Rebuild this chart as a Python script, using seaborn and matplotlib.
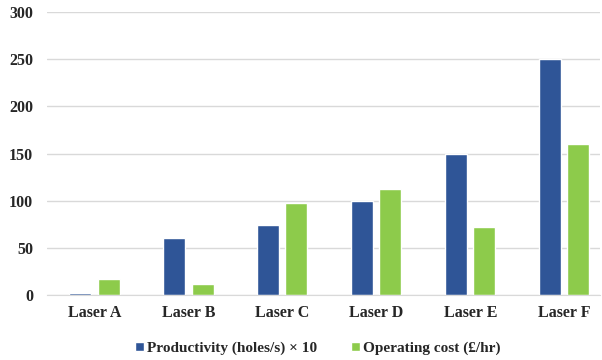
import matplotlib
matplotlib.use("Agg")
import matplotlib.pyplot as plt
import seaborn as sns
import pandas as pd

categories = ["Laser A", "Laser B", "Laser C", "Laser D", "Laser E", "Laser F"]
productivity = [2, 60, 74, 100, 149, 250]
operating_cost = [17, 12, 97, 112, 72, 160]
series_names = ["Productivity (holes/s) \u00d7 10", "Operating cost (\u00a3/hr)"]
yticks = [0, 50, 100, 150, 200, 250, 300]

df = pd.DataFrame({
    "Laser": categories * 2,
    "Series": [series_names[0]] * len(categories) + [series_names[1]] * len(categories),
    "Value": productivity + operating_cost,
})

sns.set_style("white")
plt.rcParams["font.family"] = ["Liberation Serif", "DejaVu Serif"]

fig = plt.figure(figsize=(6.02, 3.6), dpi=100)
ax = fig.add_axes([47 / 602, 65 / 360, (600 - 47) / 602, (295 - 12) / 360])

palette = {series_names[0]: "#2F5597", series_names[1]: "#8DCB4B"}
sns.barplot(data=df, x="Laser", y="Value", hue="Series", palette=palette,
            width=0.6, gap=0.22, ax=ax, saturation=1, legend=True)

ax.set_ylim(0, 300)
ax.set_xlim(-0.505, 5.38)
ax.set_yticks(yticks)
ax.set_yticklabels([str(v) for v in yticks], fontsize=11.5, fontweight="bold")
ax.set_xticks(range(len(categories)))
ax.set_xticklabels(categories, fontsize=11.5, fontweight="bold")
ax.set_xlabel("")
ax.set_ylabel("")
ax.grid(axis="y", color="#D9D9D9", linewidth=1)
ax.set_axisbelow(True)
for s in ["top", "right", "left"]:
    ax.spines[s].set_visible(False)
ax.spines["bottom"].set_color("#D9D9D9")
ax.tick_params(axis="x", length=0, pad=7)
ax.tick_params(axis="y", length=0, pad=10)

handles, labels = ax.get_legend_handles_labels()
ax.get_legend().remove()
fig.legend(handles, labels, loc="center", bbox_to_anchor=(318 / 602, 1 - 348 / 360),
           ncol=2, frameon=False, prop={"weight": "bold", "size": 11},
           handlelength=0.55, handleheight=0.55, handletextpad=0.25, columnspacing=2.2)

fig.savefig("out.png", dpi=100)
